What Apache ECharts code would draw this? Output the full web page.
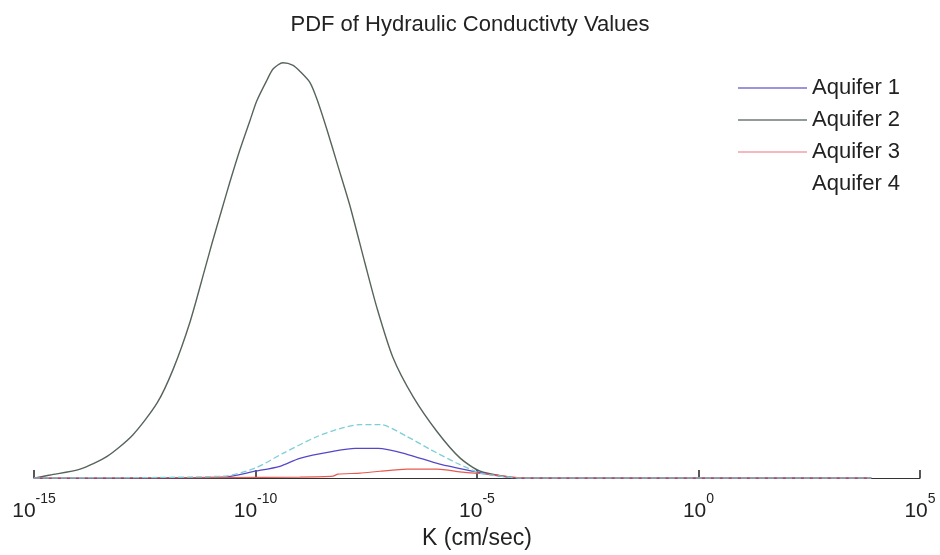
<!DOCTYPE html>
<html>
<head>
<meta charset="utf-8">
<script src="https://cdn.jsdelivr.net/npm/echarts@6/dist/echarts.min.js"></script>
<style>html,body{margin:0;padding:0;background:#fff}#c{width:940px;height:555px}</style>
</head>
<body>
<div id="c"></div>
<script>
// x values are log10(K), K in cm/sec
const tickExponents = [-15, -10, -5, 0, 5];
const seriesNames = ['Aquifer 1', 'Aquifer 2', 'Aquifer 3', 'Aquifer 4'];

const aq1LogK = [-15, -10.73, -10.01, -9.45, -9.0, -8.25, -7.75, -7.23, -6.58, -5.84, -5.09, -4.48, -4.03, 3.9];
const aq1Pdf  = [0, 0.0006, 0.0043, 0.0074, 0.0124, 0.0167, 0.0186, 0.0186, 0.0149, 0.0087, 0.0043, 0.0012, 0, 0];

const aq2LogK = [-15, -14.64, -13.96, -13.35, -12.77, -12.22, -11.86, -11.48, -11.14, -10.98, -10.76, -10.58, -10.35, -10.12, -9.97, -9.74, -9.60, -9.38, -9.15, -9.0, -8.77, -8.61, -8.39, -8.14, -7.87, -7.53, -7.26, -6.90, -6.44, -5.90, -5.38, -4.93, -4.41, -4.0, 3.9];
const aq2Pdf  = [0, 0.0019, 0.0056, 0.0136, 0.0270, 0.0470, 0.0680, 0.0975, 0.1310, 0.1470, 0.1680, 0.1850, 0.2055, 0.2240, 0.2360, 0.2490, 0.2560, 0.2598, 0.2582, 0.2545, 0.2474, 0.2368, 0.2182, 0.1953, 0.1705, 0.1345, 0.1066, 0.0756, 0.0508, 0.0290, 0.0125, 0.0043, 0.0012, 0, 0];

const aq3LogK = [-15, -10.73, -9.0, -8.25, -8.14, -7.64, -7.19, -6.58, -5.9, -5.32, -4.77, -4.19, -3.8, 3.9];
const aq3Pdf  = [0, 0.0003, 0.0006, 0.0012, 0.0025, 0.0031, 0.0043, 0.0056, 0.0056, 0.0037, 0.0025, 0.0006, 0, 0];

const aq4LogK = [-15, -10.73, -10.01, -9.38, -8.61, -8.09, -7.64, -7.19, -6.58, -6.06, -5.45, -4.93, -4.48, -4.03, 3.9];
const aq4Pdf  = [0, 0.0012, 0.0062, 0.0155, 0.0260, 0.0310, 0.0335, 0.0335, 0.0260, 0.0180, 0.0093, 0.0031, 0.0012, 0, 0];

const pair = (xs, ys) => xs.map((x, i) => [x, ys[i]]);
const FONT = '"Liberation Sans", Arial, sans-serif';

const chart = echarts.init(document.getElementById('c'), null, {renderer: 'canvas'});
chart.setOption({
  animation: false,
  backgroundColor: '#fff',
  title: {
    text: 'PDF of Hydraulic Conductivty Values',
    left: 'center', top: 9,
    textStyle: {fontFamily: FONT, fontSize: 22, fontWeight: 'normal', color: '#222'}
  },
  legend: {
    orient: 'vertical',
    left: 733, top: 72,
    itemWidth: 69, itemHeight: 1.5, itemGap: 10,
    icon: 'rect',
    textStyle: {fontFamily: FONT, fontSize: 22, color: '#222', lineHeight: 22},
    data: [
      {name: 'Aquifer 1', itemStyle: {color: '#7a70d0'}},
      {name: 'Aquifer 2', itemStyle: {color: '#6f7a74'}},
      {name: 'Aquifer 3', itemStyle: {color: '#f2a0a8'}},
      {name: 'Aquifer 4', itemStyle: {color: 'rgba(255,255,255,0)'}}
    ]
  },
  grid: {left: 34, right: 20, top: 40, bottom: 73, containLabel: false},
  xAxis: {
    type: 'value',
    min: -15, max: 5, interval: 5,
    name: 'K (cm/sec)',
    nameLocation: 'middle', nameGap: 48,
    nameTextStyle: {fontFamily: FONT, fontSize: 23, color: '#222'},
    axisLine: {show: true, lineStyle: {color: '#333', width: 1}},
    axisTick: {show: true, inside: true, length: 8, lineStyle: {color: '#222', width: 1.5}},
    splitLine: {show: false},
    axisLabel: {
      margin: 14,
      formatter: v => tickExponents.includes(v) ? '{b|10}{s|' + v + '}' : '',
      rich: {
        b: {fontFamily: FONT, fontSize: 21, color: '#222', verticalAlign: 'bottom', lineHeight: 30},
        s: {fontFamily: FONT, fontSize: 14, color: '#222', verticalAlign: 'top', lineHeight: 30}
      }
    }
  },
  yAxis: {
    type: 'value', min: 0, max: 0.274,
    show: false,
    splitLine: {show: false}
  },
  series: [
    {name: seriesNames[1], type: 'line', showSymbol: false, z: 2, smooth: 0.25, clip: true,
     data: pair(aq2LogK, aq2Pdf), lineStyle: {color: '#56645a', width: 1.4}, itemStyle: {color: '#56645a'}},
    {name: seriesNames[0], type: 'line', showSymbol: false, z: 3, smooth: 0.25, clip: true,
     data: pair(aq1LogK, aq1Pdf), lineStyle: {color: '#5548c8', width: 1.3}, itemStyle: {color: '#5548c8'}},
    {name: seriesNames[2], type: 'line', showSymbol: false, z: 3, smooth: 0.2, clip: true,
     data: pair(aq3LogK, aq3Pdf), lineStyle: {color: '#e65a50', width: 1.2}, itemStyle: {color: '#e65a50'}},
    {name: seriesNames[3], type: 'line', showSymbol: false, z: 4, smooth: 0.25, clip: true,
     data: pair(aq4LogK, aq4Pdf), lineStyle: {color: '#7ccfd6', width: 1.3, type: [6, 3]}, itemStyle: {color: '#7ccfd6'}}
  ]
});
</script>
</body>
</html>
